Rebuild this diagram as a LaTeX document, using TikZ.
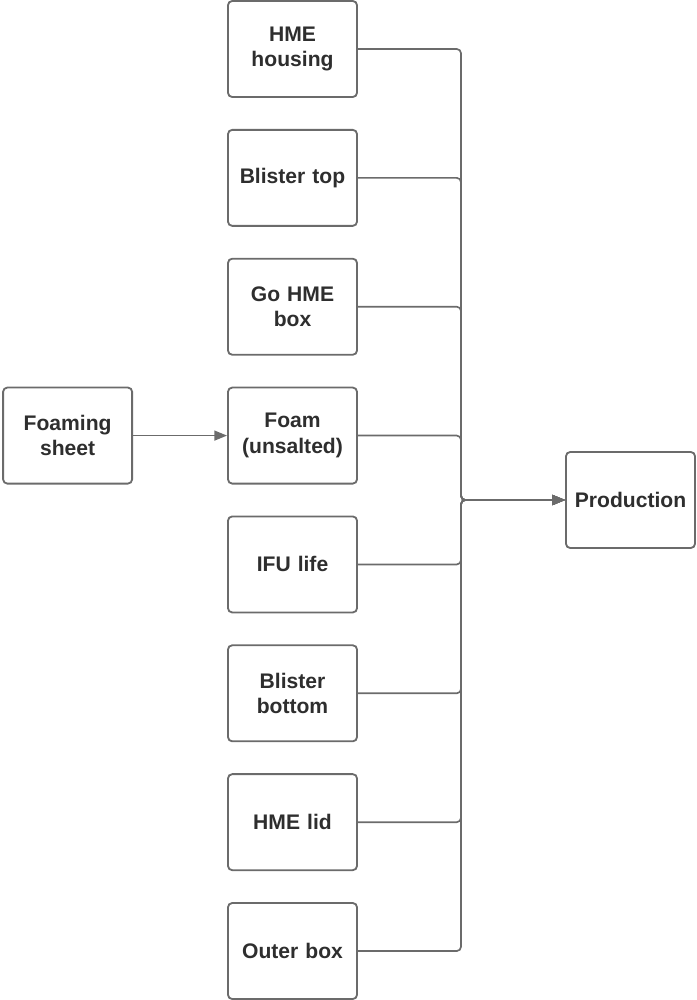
\documentclass[tikz,border=0pt]{standalone}
\usepackage{fontspec}
\setmainfont{Liberation Sans}
\usetikzlibrary{positioning,arrows.meta}
\definecolor{linegray}{HTML}{6B6B6B}
\definecolor{textgray}{HTML}{2E2E2E}
\tikzset{
  part/.style={draw=linegray, line width=1.3pt, rounded corners=3pt, fill=white,
    minimum width=3.225cm, minimum height=2.4cm, text width=3cm, align=center,
    font=\fontsize{15}{18}\selectfont\bfseries, text=textgray, inner sep=0pt},
  flow/.style={draw=linegray, line width=1.2pt, rounded corners=3pt,
    -{Triangle[length=9pt,width=7pt]}},
}
\begin{document}
\begin{tikzpicture}[x=0.025cm,y=-0.025cm]
  \useasboundingbox (0,0) rectangle (697,1000);

  % parts column
  \node[part] (housing) at (292.5,49) {HME\\housing};
  \node[part, below=0.775cm of housing] (btop) {Blister top};
  \node[part, below=0.775cm of btop] (gobox) {Go HME\\box};
  \node[part, below=0.775cm of gobox] (foam) {Foam\\(unsalted)};
  \node[part, below=0.775cm of foam] (ifu) {IFU life};
  \node[part, below=0.775cm of ifu] (bbottom) {Blister\\bottom};
  \node[part, below=0.775cm of bbottom] (lid) {HME lid};
  \node[part, below=0.775cm of lid] (outer) {Outer box};

  % source and target
  \node[part, left=2.35cm of foam] (sheet) {Foaming\\sheet};
  \node[part] (prod) at (630.5,500) {Production};
  \coordinate (bus) at (461,500);

  \draw[flow] (sheet) -- (foam);
  \foreach \n in {housing,btop,gobox,foam,ifu,bbottom,lid,outer}
    \draw[flow] (\n.east) -- (\n.east -| bus) -- (bus) -- (prod.west);
\end{tikzpicture}
\end{document}
